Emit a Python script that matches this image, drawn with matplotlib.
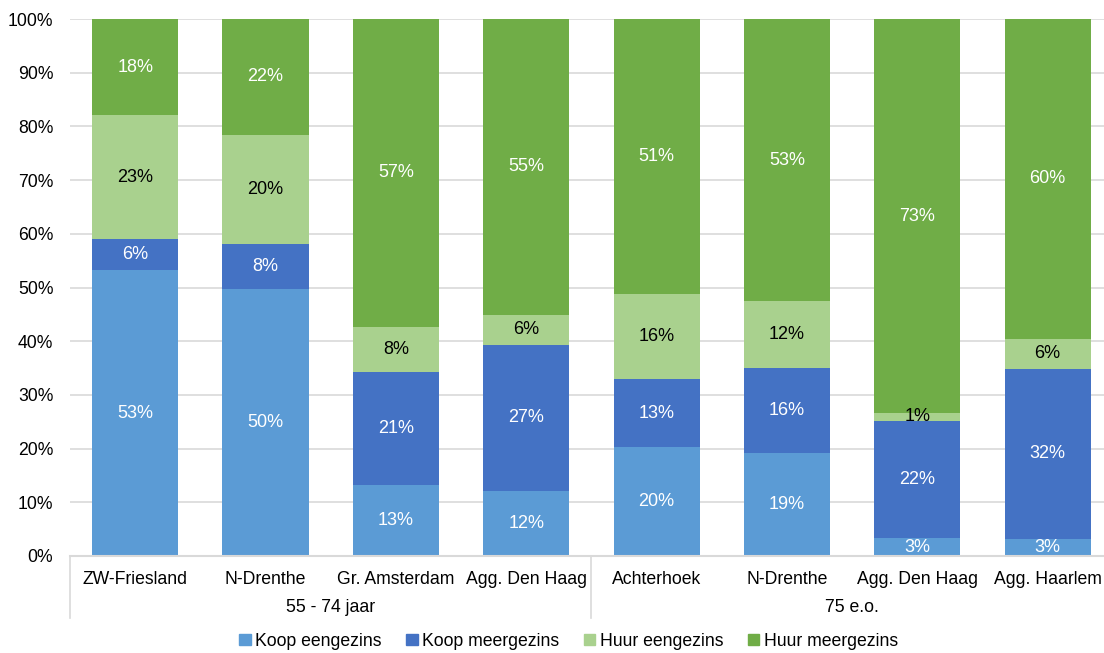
import numpy as np
import matplotlib.pyplot as plt
from matplotlib.patches import Patch

plt.rcParams['font.family'] = ['Liberation Sans', 'DejaVu Sans']
plt.rcParams['font.size'] = 12.7

# woningtype per regio, in procenten
regio = ["ZW-Friesland", "N-Drenthe", "Gr. Amsterdam", "Agg. Den Haag",
         "Achterhoek", "N-Drenthe", "Agg. Den Haag", "Agg. Haarlem"]
groepen = ["55 - 74 jaar", "75 e.o."]

koop_eengezins = [53.2, 49.7, 13.2, 12.1, 20.3, 19.1, 3.3, 3.1]
koop_meergezins = [5.8, 8.4, 21.1, 27.2, 12.6, 16.0, 21.9, 31.8]
huur_eengezins = [23.1, 20.3, 8.4, 5.6, 15.9, 12.3, 1.4, 5.6]
huur_meergezins = [17.9, 21.6, 57.3, 55.1, 51.2, 52.6, 73.4, 59.5]

reeksen = [
    ("Koop eengezins", koop_eengezins, "#5B9BD5", "white"),
    ("Koop meergezins", koop_meergezins, "#4472C4", "white"),
    ("Huur eengezins", huur_eengezins, "#A9D18E", "black"),
    ("Huur meergezins", huur_meergezins, "#70AD47", "white"),
]

fig = plt.figure(figsize=(11.04, 6.53), dpi=100)
ax = fig.add_axes([70 / 1104, 97 / 653, 1042.7 / 1104, 537 / 653])

x = np.arange(len(regio))
onder = np.zeros(len(regio))
for naam, waarden, kleur, tekstkleur in reeksen:
    waarden = np.array(waarden)
    bars = ax.bar(x, waarden, 0.66, bottom=onder, color=kleur, zorder=2)
    ax.bar_label(bars, labels=[f"{v:.0f}%" for v in waarden],
                 label_type="center", color=tekstkleur, fontsize=13)
    onder += waarden

ax.set_xlim(-0.5, len(regio) - 0.5)
ax.set_ylim(0, 100)
ax.set_yticks(np.arange(0, 101, 10))
ax.set_yticklabels([f"{v}%" for v in range(0, 101, 10)])
ax.set_xticks(x)
ax.set_xticklabels(regio)
ax.tick_params(axis="both", length=0, labelcolor="#000000")
ax.tick_params(axis="y", pad=12)
ax.tick_params(axis="x", pad=10.5)
ax.yaxis.grid(True, color="#D9D9D9", linewidth=1.2, zorder=0)
ax.set_axisbelow(True)
for kant in ["left", "right", "top"]:
    ax.spines[kant].set_visible(False)
ax.spines["bottom"].set_color("#D9D9D9")
ax.spines["bottom"].set_linewidth(1.5)

# tweede niveau van de categorie-as
trans = ax.get_xaxis_transform()
diepte = -62 / 537
for xs in [-0.5, 3.5, 7.5]:
    ax.plot([xs, xs], [0, diepte], transform=trans, color="#D9D9D9",
            linewidth=1.2, clip_on=False)
for i, groep in enumerate(groepen):
    ax.text(i * 4 + 1.5, -52 / 537, groep, transform=trans,
            ha="center", va="center")

handles = [Patch(color=kleur, label=naam) for naam, _, kleur, _ in reeksen]
fig.legend(handles=handles, loc="center", bbox_to_anchor=(0.515, 0.018),
           ncol=4, frameon=False, handlelength=0.65, handleheight=0.65,
           handletextpad=0.25, columnspacing=1.4)

fig.savefig("out.png", dpi=100)
